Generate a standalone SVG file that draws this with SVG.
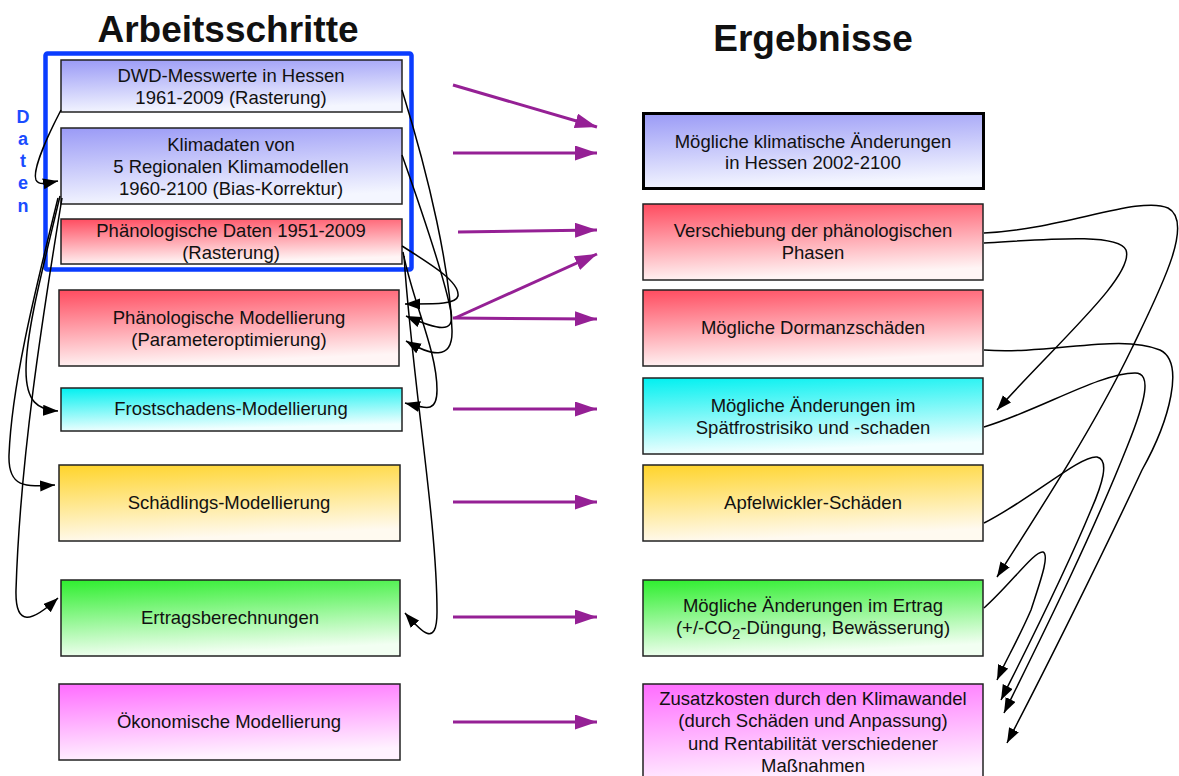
<svg xmlns="http://www.w3.org/2000/svg" width="1179" height="776" viewBox="0 0 1179 776">
<style>
text{font-family:"Liberation Sans",Arial,Helvetica,sans-serif;fill:#111;}
.t{font-size:18.5px;text-anchor:middle;}
.title{font-size:37px;font-weight:bold;text-anchor:middle;}
.daten{font-size:18px;font-weight:bold;fill:#1a4cff;text-anchor:middle;}
.box{stroke:#222;stroke-width:1.5;}
.pa{stroke:#952095;stroke-width:3;fill:none;marker-end:url(#pah);}
.ba{stroke:#000;stroke-width:1.5;fill:none;marker-end:url(#bah);}
</style>
<defs>
<linearGradient id="gB" x1="0" y1="0" x2="0.2" y2="1"><stop offset="0" stop-color="#9a9af6"/><stop offset="1" stop-color="#f4f6ff"/></linearGradient>
<linearGradient id="gR" x1="0" y1="0" x2="0.2" y2="1"><stop offset="0" stop-color="#ff4b5f"/><stop offset="1" stop-color="#fff5f5"/></linearGradient>
<linearGradient id="gC" x1="0" y1="0" x2="0.2" y2="1"><stop offset="0" stop-color="#00f0f0"/><stop offset="1" stop-color="#f2ffff"/></linearGradient>
<linearGradient id="gY" x1="0" y1="0" x2="0.2" y2="1"><stop offset="0" stop-color="#ffd42a"/><stop offset="1" stop-color="#fffaf0"/></linearGradient>
<linearGradient id="gG" x1="0" y1="0" x2="0.2" y2="1"><stop offset="0" stop-color="#2eee2e"/><stop offset="1" stop-color="#f2fff2"/></linearGradient>
<linearGradient id="gM" x1="0" y1="0" x2="0.2" y2="1"><stop offset="0" stop-color="#ff6cff"/><stop offset="1" stop-color="#fff2ff"/></linearGradient>
<marker id="pah" markerUnits="userSpaceOnUse" markerWidth="24" markerHeight="16" refX="22" refY="7.5" orient="auto"><path d="M0,0 L22,7.5 L0,15 z" fill="#952095"/></marker>
<marker id="bah" markerUnits="userSpaceOnUse" markerWidth="16" markerHeight="12" refX="15" refY="5.5" orient="auto"><path d="M0,0 L15,5.5 L0,11 z" fill="#000"/></marker>
</defs>
<rect width="1179" height="776" fill="#fff"/>

<text class="title" x="228" y="42">Arbeitsschritte</text>
<text class="title" x="813" y="51">Ergebnisse</text>

<g id="daten-label">
<text class="daten" x="23" y="123">D</text>
<text class="daten" x="23" y="145">a</text>
<text class="daten" x="23" y="167">t</text>
<text class="daten" x="23" y="189">e</text>
<text class="daten" x="23" y="212">n</text>
</g>

<g id="daten-frame"><rect x="45.5" y="53.5" width="366" height="216" rx="2" fill="none" stroke="#0a3cff" stroke-width="4.5"/></g>

<g id="n-dwd"><rect class="box" x="61" y="60" width="341" height="52" fill="url(#gB)"/>
<text class="t" x="231" y="81.5">DWD-Messwerte in Hessen</text><text class="t" x="231" y="104">1961-2009 (Rasterung)</text></g>
<g id="n-klima"><rect class="box" x="61" y="128" width="341" height="76" fill="url(#gB)"/>
<text class="t" x="231" y="150.5">Klimadaten von</text><text class="t" x="231" y="172.5">5 Regionalen Klimamodellen</text><text class="t" x="231" y="194.5">1960-2100 (Bias-Korrektur)</text></g>
<g id="n-phaendaten"><rect class="box" x="61" y="219" width="341" height="45" fill="url(#gR)"/>
<text class="t" x="231" y="236.5">Phänologische Daten 1951-2009</text><text class="t" x="231" y="258.5">(Rasterung)</text></g>
<g id="n-phaenmod"><rect class="box" x="59" y="290" width="340" height="76" fill="url(#gR)"/>
<text class="t" x="229" y="323.5">Phänologische Modellierung</text><text class="t" x="229" y="346">(Parameteroptimierung)</text></g>
<g id="n-frost"><rect class="box" x="61" y="388" width="341" height="43" fill="url(#gC)"/>
<text class="t" x="231" y="414.5">Frostschadens-Modellierung</text></g>
<g id="n-schaed"><rect class="box" x="59" y="465" width="341" height="76" fill="url(#gY)"/>
<text class="t" x="229" y="508.5">Schädlings-Modellierung</text></g>
<g id="n-ertragsb"><rect class="box" x="61" y="580" width="339" height="76" fill="url(#gG)"/>
<text class="t" x="230" y="623.5">Ertragsberechnungen</text></g>
<g id="n-oekon"><rect class="box" x="59" y="684" width="341" height="76" fill="url(#gM)"/>
<text class="t" x="229" y="727.5">Ökonomische Modellierung</text></g>

<g id="r-klima"><rect x="643.5" y="113.5" width="340" height="75" fill="url(#gB)" stroke="#000" stroke-width="3"/>
<text class="t" x="813" y="147.5">Mögliche klimatische Änderungen</text><text class="t" x="813" y="168.5">in Hessen 2002-2100</text></g>
<g id="r-versch"><rect class="box" x="643" y="204" width="340" height="76" fill="url(#gR)"/>
<text class="t" x="813" y="236.5">Verschiebung der phänologischen</text><text class="t" x="813" y="258.5">Phasen</text></g>
<g id="r-dormanz"><rect class="box" x="643" y="290" width="340" height="76" fill="url(#gR)"/>
<text class="t" x="813" y="333.5">Mögliche Dormanzschäden</text></g>
<g id="r-frost"><rect class="box" x="643" y="378" width="340" height="76" fill="url(#gC)"/>
<text class="t" x="813" y="411.5">Mögliche Änderungen im</text><text class="t" x="813" y="433.5">Spätfrostrisiko und -schaden</text></g>
<g id="r-apfel"><rect class="box" x="643" y="465" width="340" height="76" fill="url(#gY)"/>
<text class="t" x="813" y="508.5">Apfelwickler-Schäden</text></g>
<g id="r-ertrag"><rect class="box" x="643" y="580" width="340" height="76" fill="url(#gG)"/>
<text class="t" x="813" y="611.5">Mögliche Änderungen im Ertrag</text><text class="t" x="813" y="634">(+/-CO<tspan font-size="15" dy="5">2</tspan><tspan dy="-5">-Düngung, Bewässerung)</tspan></text></g>
<g id="r-kosten"><rect class="box" x="643" y="684" width="340" height="100" fill="url(#gM)"/>
<text class="t" x="813" y="704.5">Zusatzkosten durch den Klimawandel</text><text class="t" x="813" y="727">(durch Schäden und Anpassung)</text><text class="t" x="813" y="749.5">und Rentabilität verschiedener</text><text class="t" x="813" y="771.5">Maßnahmen</text></g>

<g id="connectors">
<path class="pa" d="M453,85 L597,127"/>
<path class="pa" d="M453,153 L597,153"/>
<path class="pa" d="M458,232 L597,230"/>
<path class="pa" d="M455,318 L597,254"/>
<path class="pa" d="M453,318 L597,319"/>
<path class="pa" d="M453,409 L597,409"/>
<path class="pa" d="M453,502 L597,502"/>
<path class="pa" d="M453,617 L597,617"/>
<path class="pa" d="M453,722 L597,722"/>

<path class="ba" d="M61,110 C48,135 32,170 36,180 C39,186 48,183 58,181"/>
<path class="ba" d="M60,196 C45,260 26,330 26,370 C26,402 38,410 58,411"/>
<path class="ba" d="M58,198 C38,280 12,380 9,455 C8,488 25,487 55,485"/>
<path class="ba" d="M62,198 C42,320 20,460 16,590 C15,628 32,622 58,598"/>

<path class="ba" d="M402,246 C432,265 460,282 458,296 C456,305 432,304 405,304"/>
<path class="ba" d="M402,155 C425,220 445,280 451,312 C455,334 438,330 406,316"/>
<path class="ba" d="M402,90 C430,180 450,270 452,330 C453,362 430,355 406,341"/>
<path class="ba" d="M403,252 C412,300 437,350 437,390 C437,414 425,408 405,403"/>
<path class="ba" d="M404,256 C412,380 437,520 437,612 C437,650 420,630 405,613"/>

<path class="ba" d="M984,233 C1060,230 1140,195 1168,208 C1195,222 1160,290 1132,348 C1095,425 1040,510 997,577"/>
<path class="ba" d="M984,243 C1040,240 1118,232 1126,250 C1135,275 1060,340 997,410"/>
<path class="ba" d="M984,350 C1050,355 1120,333 1160,350 C1185,362 1170,420 1142,470 C1100,560 1040,680 1007,743"/>
<path class="ba" d="M984,427 C1040,410 1100,373 1135,373 C1152,373 1146,400 1127,447 C1090,540 1040,640 1004,713"/>
<path class="ba" d="M984,523 C1030,500 1080,455 1097,457 C1110,460 1102,485 1091,510 C1062,580 1026,650 1001,700"/>
<path class="ba" d="M984,608 C1010,585 1035,550 1043,552 C1050,555 1040,582 1031,610 C1018,640 1006,660 997,680"/>
</g>
</svg>
